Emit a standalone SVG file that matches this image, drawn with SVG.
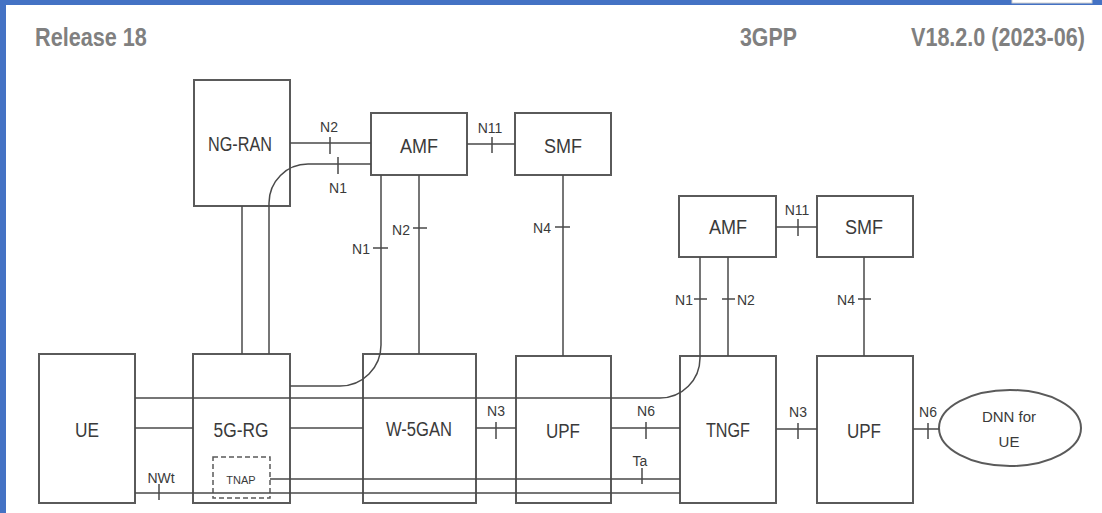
<svg xmlns="http://www.w3.org/2000/svg" width="1102" height="513" viewBox="0 0 1102 513">
<style>
.box{fill:#fff;stroke:#5a5a5a;stroke-width:2}
.lbl{font-family:"Liberation Sans",Arial,sans-serif;font-size:20px;fill:#3a3a3a;text-anchor:middle}
.sm{font-family:"Liberation Sans",Arial,sans-serif;font-size:14px;fill:#3a3a3a}
.c{fill:none;stroke:#4a4a4a;stroke-width:1.5}
.hdr{font-family:"Liberation Sans",Arial,sans-serif;font-size:26px;font-weight:bold;fill:#808080}
</style>
<rect x="0" y="0" width="1102" height="513" fill="#fff"/>
<g id="frame">
<rect x="0" y="0" width="1102" height="5" fill="#4472c4"/>
<rect x="0" y="0" width="6" height="513" fill="#4472c4"/>
<rect x="1012" y="-1" width="80" height="4" fill="#fff" stroke="#cfcfcf" stroke-width="1"/>
</g>
<g id="header">
<text class="hdr" transform="matrix(0.833 0 0 1 35 46)">Release 18</text>
<text class="hdr" transform="matrix(0.82 0 0 1 740 46)">3GPP</text>
<text class="hdr" transform="matrix(0.83 0 0 1 911 46)">V18.2.0 (2023-06)</text>
</g>
<g id="ng-ran"><rect class="box" x="194" y="80" width="96" height="126"/><text class="lbl" x="240" y="151" textLength="64" lengthAdjust="spacingAndGlyphs">NG-RAN</text></g>
<g id="amf1"><rect class="box" x="371" y="113" width="96" height="62"/><text class="lbl" x="419" y="153" textLength="38" lengthAdjust="spacingAndGlyphs">AMF</text></g>
<g id="smf1"><rect class="box" x="515" y="113" width="96" height="62"/><text class="lbl" x="563" y="153" textLength="38" lengthAdjust="spacingAndGlyphs">SMF</text></g>
<g id="amf2"><rect class="box" x="679" y="196" width="97" height="61"/><text class="lbl" x="728" y="234" textLength="38" lengthAdjust="spacingAndGlyphs">AMF</text></g>
<g id="smf2"><rect class="box" x="817" y="196" width="96" height="61"/><text class="lbl" x="864" y="234" textLength="38" lengthAdjust="spacingAndGlyphs">SMF</text></g>
<g id="ue"><rect class="box" x="39" y="354" width="96" height="149"/><text class="lbl" x="87" y="437" textLength="24" lengthAdjust="spacingAndGlyphs">UE</text></g>
<g id="5g-rg"><rect class="box" x="193" y="354" width="97" height="149"/><text class="lbl" x="241" y="437" textLength="55" lengthAdjust="spacingAndGlyphs">5G-RG</text></g>
<g id="tnap"><rect x="213" y="457" width="57" height="41" fill="none" stroke="#5a5a5a" stroke-width="1.5" stroke-dasharray="5 3"/><text x="241" y="484" font-family="Liberation Sans, Arial, sans-serif" font-size="11" fill="#3a3a3a" text-anchor="middle">TNAP</text></g>
<g id="w-5gan"><rect class="box" x="363" y="354" width="113" height="149"/><text class="lbl" x="419" y="436" textLength="66" lengthAdjust="spacingAndGlyphs">W-5GAN</text></g>
<g id="upf1"><rect class="box" x="516" y="356" width="95" height="147"/><text class="lbl" x="563" y="438" textLength="34" lengthAdjust="spacingAndGlyphs">UPF</text></g>
<g id="tngf"><rect class="box" x="680" y="356" width="96" height="147"/><text class="lbl" x="728" y="437" textLength="44" lengthAdjust="spacingAndGlyphs">TNGF</text></g>
<g id="upf2"><rect class="box" x="817" y="356" width="96" height="147"/><text class="lbl" x="864" y="438" textLength="34" lengthAdjust="spacingAndGlyphs">UPF</text></g>
<g id="dnn"><ellipse cx="1010" cy="428" rx="71" ry="38" fill="#fff" stroke="#5a5a5a" stroke-width="2"/>
<text x="1009" y="422" font-family="Liberation Sans, Arial, sans-serif" font-size="15" fill="#3a3a3a" text-anchor="middle">DNN for</text>
<text x="1009" y="447" font-family="Liberation Sans, Arial, sans-serif" font-size="15" fill="#3a3a3a" text-anchor="middle">UE</text></g>
<g id="connectors">
<path class="c" d="M290 143H371M330 137V154"/>
<path class="c" d="M371 164H308A39 39 0 0 0 269 203V354M338 157V174"/>
<path class="c" d="M242 206V354"/>
<path class="c" d="M381 175V345A41 41 0 0 1 340 386H290M373 248H388"/>
<path class="c" d="M419 175V354M413 228H427"/>
<path class="c" d="M467 144H515M492 137V153"/>
<path class="c" d="M563 175V356M555 227H570"/>
<path class="c" d="M776 227H817M798 219V236"/>
<path class="c" d="M700 257V358A40 40 0 0 1 660 398H135M694 299H707"/>
<path class="c" d="M728 257V356M722 299H735"/>
<path class="c" d="M864 257V356M858 299H871"/>
<path class="c" d="M135 428H193"/>
<path class="c" d="M290 428H363"/>
<path class="c" d="M476 428H516M496 422V439"/>
<path class="c" d="M611 428H680M646 422V439"/>
<path class="c" d="M776 429H817M798 423V439"/>
<path class="c" d="M913 429H939M928 423V439"/>
<path class="c" d="M270 479H680M642 468V484"/>
<path class="c" d="M135 493H680M159 484V500"/>
</g>
<g id="labels">
<text class="sm" x="329" y="132" text-anchor="middle">N2</text>
<text class="sm" x="338" y="193" text-anchor="middle">N1</text>
<text class="sm" x="490" y="133" text-anchor="middle">N11</text>
<text class="sm" x="410" y="235" text-anchor="end">N2</text>
<text class="sm" x="370" y="254" text-anchor="end">N1</text>
<text class="sm" x="551" y="233" text-anchor="end">N4</text>
<text class="sm" x="797" y="215" text-anchor="middle">N11</text>
<text class="sm" x="693" y="305" text-anchor="end">N1</text>
<text class="sm" x="737" y="305">N2</text>
<text class="sm" x="855" y="305" text-anchor="end">N4</text>
<text class="sm" x="496" y="416" text-anchor="middle">N3</text>
<text class="sm" x="646" y="416" text-anchor="middle">N6</text>
<text class="sm" x="798" y="417" text-anchor="middle">N3</text>
<text class="sm" x="928" y="417" text-anchor="middle">N6</text>
<text class="sm" x="640" y="466" text-anchor="middle">Ta</text>
<text class="sm" x="161" y="483" text-anchor="middle">NWt</text>
</g>
</svg>
